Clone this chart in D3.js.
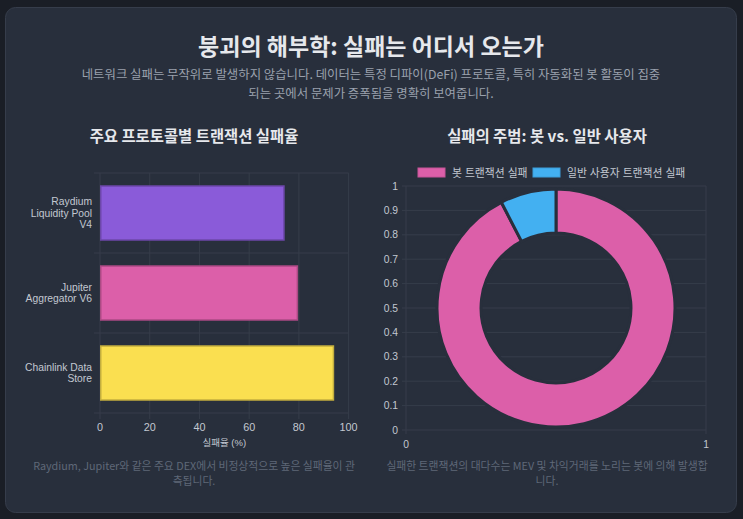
<!DOCTYPE html>
<html>
<head>
<meta charset="utf-8">
<script src="https://cdn.jsdelivr.net/npm/d3@7"></script>
<style>
  html, body { margin: 0; padding: 0; background: #1a1e26; }
  svg { display: block; }
</style>
</head>
<body>
<svg id="chart" width="743" height="519"></svg>
<script>
// ---- data ----
const protocols = [['Raydium', 'Liquidity Pool', 'V4'], ['Jupiter', 'Aggregator V6'], ['Chainlink Data', 'Store']];
const protocolKeys = ['raydium', 'jupiter', 'chainlink'];
const failRates = [73.7, 79.1, 93.6];
const barColors = ['#8a5bd9', '#dc5fa9', '#fadf50'];
const rateTicks = [0, 20, 40, 60, 80, 100];

const sourceLabels = ['봇 트랜잭션 실패', '일반 사용자 트랜잭션 실패'];
const sourceShares = [92.4, 7.6];
const sourceColors = ['#dc5fa9', '#43b0f1'];

const titleText = '붕괴의 해부학: 실패는 어디서 오는가';
const subtitleLines = [
  '네트워크 실패는 무작위로 발생하지 않습니다. 데이터는 특정 디파이(DeFi) 프로토콜, 특히 자동화된 봇 활동이 집중',
  '되는 곳에서 문제가 증폭됨을 명확히 보여줍니다.'
];
const leftTitle = '주요 프로토콜별 트랜잭션 실패율';
const rightTitle = '실패의 주범: 봇 vs. 일반 사용자';
const leftCaption = ['Raydium, Jupiter와 같은 주요 DEX에서 비정상적으로 높은 실패율이 관', '측됩니다.'];
const rightCaption = ['실패한 트랜잭션의 대다수는 MEV 및 차익거래를 노리는 봇에 의해 발생합', '니다.'];

const KR = '"Noto Sans CJK KR", "Noto Sans", sans-serif';
const SANS = '"Liberation Sans", Arial, "Noto Sans CJK KR", sans-serif';
const cardBg = '#282f3c';
const gridColor = '#363d4a';
const tickColor = '#c3c8d1';

const svg = d3.select('#chart');

// card
svg.append('rect')
  .attr('x', 5.5).attr('y', 7.5)
  .attr('width', 731).attr('height', 505)
  .attr('rx', 10)
  .attr('fill', cardBg)
  .attr('stroke', '#363d4b');

// header
svg.append('text')
  .attr('x', 371).attr('y', 55)
  .attr('text-anchor', 'middle')
  .style('font-family', KR).style('font-size', '23px').style('font-weight', 700)
  .attr('fill', '#e6e8ec')
  .text(titleText);

svg.append('g').selectAll('text')
  .data(subtitleLines)
  .enter()
  .append('text')
  .attr('x', 371)
  .attr('y', (d, i) => 79 + i * 19)
  .attr('text-anchor', 'middle')
  .style('font-family', KR).style('font-size', '12.4px')
  .attr('fill', '#9aa1ad')
  .text(d => d);

// section titles + captions
const sectionText = (cx, title, caption) => {
  svg.append('text')
    .attr('x', cx).attr('y', 142)
    .attr('text-anchor', 'middle')
    .style('font-family', KR).style('font-size', '15.4px').style('font-weight', 700)
    .attr('fill', '#e6e8ec')
    .text(title);
  svg.append('g').selectAll('text')
    .data(caption)
    .enter()
    .append('text')
    .attr('x', cx)
    .attr('y', (d, i) => 470 + i * 15)
    .attr('text-anchor', 'middle')
    .style('font-family', KR).style('font-size', '10.8px')
    .attr('fill', '#5f6878')
    .text(d => d);
};
sectionText(194, leftTitle, leftCaption);
sectionText(547, rightTitle, rightCaption);

/* ---- left: horizontal bar chart ---- */
(() => {
  const left = 100, right = 348.6, top = 173, bottom = 413;
  const x = d3.scaleLinear().domain([0, 100]).range([left, right]);
  const yGrid = d3.scaleBand().domain(protocolKeys).range([top, bottom]);
  const y = d3.scaleBand().domain(protocolKeys).range([top, bottom])
    .paddingInner(0.325).paddingOuter(0.1625);

  const g = svg.append('g');

  // vertical grid (with ticks below)
  g.selectAll('.vgrid')
    .data(rateTicks)
    .enter()
    .append('line')
    .attr('x1', d => x(d)).attr('x2', d => x(d))
    .attr('y1', top).attr('y2', bottom + 6)
    .attr('stroke', gridColor);

  // horizontal grid at band edges
  const edges = protocolKeys.map(k => yGrid(k)).concat([bottom]);
  g.selectAll('.hgrid')
    .data(edges)
    .enter()
    .append('line')
    .attr('x1', left - 6).attr('x2', right)
    .attr('y1', d => d).attr('y2', d => d)
    .attr('stroke', gridColor);

  // bars
  g.selectAll('.bar')
    .data(failRates)
    .enter()
    .append('rect')
    .attr('x', x(0) + 0.75)
    .attr('y', (d, i) => y(protocolKeys[i]))
    .attr('width', d => x(d) - x(0))
    .attr('height', y.bandwidth())
    .attr('fill', (d, i) => barColors[i])
    .attr('stroke', (d, i) => d3.color(barColors[i]).darker(0.7))
    .attr('stroke-width', 1.5);

  // category labels
  protocols.forEach((lines, i) => {
    const cy = yGrid(protocolKeys[i]) + yGrid.bandwidth() / 2;
    const lh = 11.5;
    const t = g.append('text')
      .attr('text-anchor', 'end')
      .style('font-family', SANS).style('font-size', '10.3px')
      .attr('fill', tickColor);
    lines.forEach((ln, j) => {
      t.append('tspan')
        .attr('x', left - 8)
        .attr('y', cy + (j - (lines.length - 1) / 2) * lh + 3.5)
        .text(ln);
    });
  });

  // x tick labels
  g.selectAll('.xt')
    .data(rateTicks)
    .enter()
    .append('text')
    .attr('x', d => x(d))
    .attr('y', bottom + 18)
    .attr('text-anchor', 'middle')
    .style('font-family', SANS).style('font-size', '10.8px')
    .attr('fill', tickColor)
    .text(d => d);

  g.append('text')
    .attr('x', (left + right) / 2)
    .attr('y', bottom + 33)
    .attr('text-anchor', 'middle')
    .style('font-family', SANS).style('font-size', '9.5px')
    .attr('fill', tickColor)
    .text('실패율 (%)');
})();

/* ---- right: doughnut over linear axes ---- */
(() => {
  const left = 406, right = 706, top = 186, bottom = 430;
  const x = d3.scaleLinear().domain([0, 1]).range([left, right]);
  const y = d3.scaleLinear().domain([0, 1]).range([bottom, top]);
  const yTicks = d3.range(0, 11).map(d => d / 10);

  const g = svg.append('g');

  g.selectAll('.hgrid')
    .data(yTicks)
    .enter()
    .append('line')
    .attr('x1', left - 4).attr('x2', right)
    .attr('y1', d => y(d)).attr('y2', d => y(d))
    .attr('stroke', gridColor);

  g.selectAll('.vgrid')
    .data([0, 1])
    .enter()
    .append('line')
    .attr('x1', d => x(d)).attr('x2', d => x(d))
    .attr('y1', top).attr('y2', bottom + 4)
    .attr('stroke', gridColor);

  g.selectAll('.yt')
    .data(yTicks)
    .enter()
    .append('text')
    .attr('x', left - 8)
    .attr('y', d => y(d) + 3.5)
    .attr('text-anchor', 'end')
    .style('font-family', SANS).style('font-size', '10.3px')
    .attr('fill', tickColor)
    .text(d => d3.format('~g')(d));

  g.selectAll('.xt')
    .data([0, 1])
    .enter()
    .append('text')
    .attr('x', d => x(d))
    .attr('y', bottom + 18)
    .attr('text-anchor', 'middle')
    .style('font-family', SANS).style('font-size', '10.3px')
    .attr('fill', tickColor)
    .text(d => d);

  // doughnut
  const outer = Math.min(right - left, bottom - top) / 2 - 3;
  const arc = d3.arc().innerRadius(outer * 0.63).outerRadius(outer);
  const pie = d3.pie().value(d => d).sort(null);
  const donut = g.append('g')
    .attr('transform', 'translate(' + x(0.5) + ',' + y(0.5) + ')');
  donut.selectAll('path')
    .data(pie(sourceShares))
    .enter()
    .append('path')
    .attr('d', arc)
    .attr('fill', (d, i) => sourceColors[i])
    .attr('stroke', cardBg)
    .attr('stroke-width', 3)
    .attr('stroke-linejoin', 'round');

  // legend
  const legendX = [418, 533];
  const lg = g.selectAll('.legend')
    .data(sourceLabels)
    .enter()
    .append('g')
    .attr('transform', (d, i) => 'translate(' + legendX[i] + ',168)');
  lg.append('rect')
    .attr('width', 27).attr('height', 9)
    .attr('fill', (d, i) => sourceColors[i])
    .attr('stroke', (d, i) => d3.color(sourceColors[i]).darker(0.3))
    .attr('stroke-width', 1);
  lg.append('text')
    .attr('x', 34).attr('y', 8.5)
    .style('font-family', SANS).style('font-size', '10.8px')
    .attr('fill', tickColor)
    .text(d => d);
})();
</script>
</body>
</html>
